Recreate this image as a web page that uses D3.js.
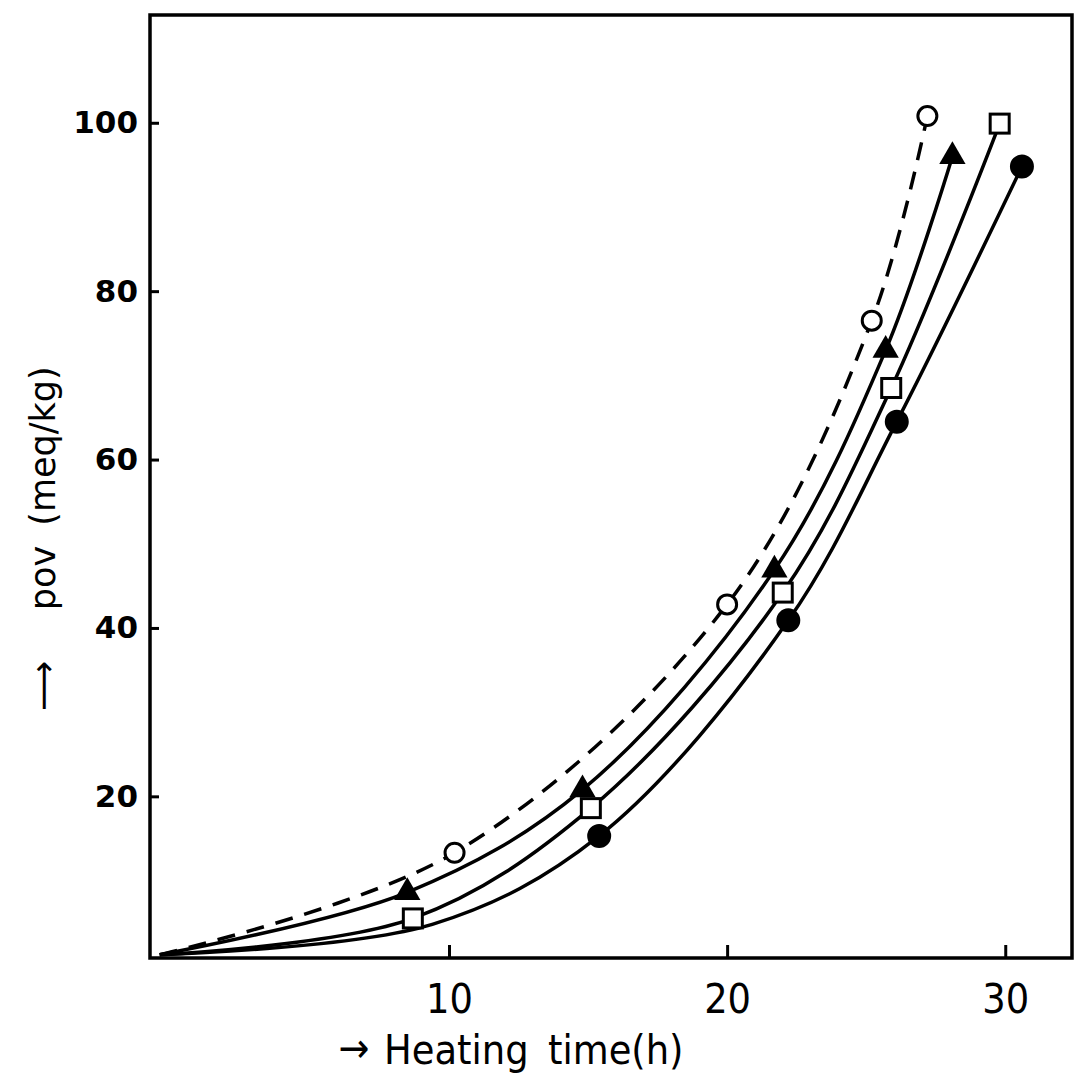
<!DOCTYPE html>
<html>
<head>
<meta charset="utf-8">
<script src="https://cdn.jsdelivr.net/npm/d3@7"></script>
<style>
  body { margin: 0; background: #fff; }
  svg { display: block; }
</style>
</head>
<body>
<div id="chart"></div>
<script>
// values (heating time in h, pov in meq/kg)
// all curves start from the same point near the origin
var origin = [-0.4, 1.2];

var openCircleTime = [10.2, 20.0, 25.2, 27.2];
var openCirclePov  = [13.3, 42.8, 76.5, 100.8];

var triangleTime = [8.5, 14.8, 21.7, 25.7, 28.1];
var trianglePov  = [8.6, 20.8, 46.9, 73.0, 96.0];

var squareTime = [8.7, 15.1, 22.0, 25.9, 29.8];
var squarePov  = [5.5, 18.6, 44.2, 68.5, 99.9];

var filledCircleTime = [15.4, 22.2, 26.1, 30.6];
var filledCirclePov  = [15.3, 40.9, 64.5, 94.8];
// where the filled-circle curve passes under the first square (no marker drawn)
var filledCurveTime = [9.4];
var filledCurvePov  = [4.8];

var xTicks = [10, 20, 30];
var yTicks = [20, 40, 60, 80, 100];

var W = 1075, H = 1080;
var plot = {left: 150, right: 1072, top: 15, bottom: 958};

var svg = d3.select("#chart").append("svg")
    .attr("width", W)
    .attr("height", H);

var x = d3.scaleLinear().domain([-0.75, 32.4]).range([plot.left, plot.right]);
var y = d3.scaleLinear().domain([0.8, 112.8]).range([plot.bottom, plot.top]);

var zip = function(xs, ys){
    return xs.map(function(v, i){ return [v, ys[i]]; });
};

var series = [
    {name: "openCircle", pts: zip(openCircleTime, openCirclePov), extra: [], dash: "18,12", marker: "circle", fill: "#fff"},
    {name: "triangle", pts: zip(triangleTime, trianglePov), extra: [], dash: null, marker: "triangle", fill: "#000"},
    {name: "square", pts: zip(squareTime, squarePov), extra: [], dash: null, marker: "square", fill: "#fff"},
    {name: "filledCircle", pts: zip(filledCircleTime, filledCirclePov), extra: zip(filledCurveTime, filledCurvePov), dash: null, marker: "circle", fill: "#000"}
];

var line = d3.line()
    .x(function(d){ return x(d[0]); })
    .y(function(d){ return y(d[1]); })
    .curve(d3.curveCatmullRom.alpha(0.5));

// curves
svg.append("g").selectAll("path")
    .data(series)
    .enter().append("path")
    .attr("d", function(d){ return line([origin].concat(d.extra, d.pts)); })
    .attr("fill", "none")
    .attr("stroke", "#000")
    .attr("stroke-width", 3.5)
    .attr("stroke-dasharray", function(d){ return d.dash; });

// markers
series.forEach(function(s){
    var g = svg.append("g").attr("class", s.name);
    if (s.marker == "circle") {
        g.selectAll("circle").data(s.pts).enter().append("circle")
            .attr("cx", function(d){ return x(d[0]); })
            .attr("cy", function(d){ return y(d[1]); })
            .attr("r", s.fill == "#000" ? 10.5 : 9.5)
            .attr("fill", s.fill)
            .attr("stroke", "#000")
            .attr("stroke-width", 3);
    } else if (s.marker == "square") {
        g.selectAll("rect").data(s.pts).enter().append("rect")
            .attr("x", function(d){ return x(d[0]) - 9.5; })
            .attr("y", function(d){ return y(d[1]) - 9.5; })
            .attr("width", 19)
            .attr("height", 19)
            .attr("fill", "#fff")
            .attr("stroke", "#000")
            .attr("stroke-width", 3);
    } else {
        var tri = d3.symbol().type(d3.symbolTriangle).size(300);
        g.selectAll("path").data(s.pts).enter().append("path")
            .attr("d", tri)
            .attr("transform", function(d){ return "translate(" + x(d[0]) + "," + y(d[1]) + ")"; })
            .attr("fill", "#000");
    }
});

// axes with inward ticks
var xAxis = d3.axisBottom(x).tickValues(xTicks).tickSizeInner(-13).tickSizeOuter(0).tickPadding(26);
var yAxis = d3.axisLeft(y).tickValues(yTicks).tickSizeInner(-9).tickSizeOuter(0).tickPadding(12);

var gx = svg.append("g")
    .attr("transform", "translate(0," + plot.bottom + ")")
    .call(xAxis);
gx.select(".domain").remove();
gx.selectAll("line").attr("stroke-width", 3);
gx.selectAll("text")
    .attr("font-family", "'Liberation Sans Narrow', 'DejaVu Sans Condensed', sans-serif")
    .attr("font-size", 41)
    .attr("fill", "#000");

var gy = svg.append("g")
    .attr("transform", "translate(" + plot.left + ",0)")
    .call(yAxis);
gy.select(".domain").remove();
gy.selectAll("line").attr("stroke-width", 3);
gy.selectAll("text")
    .attr("font-family", "'DejaVu Sans', sans-serif")
    .attr("font-weight", "bold")
    .attr("font-size", 31)
    .attr("fill", "#000");

// frame
svg.append("rect")
    .attr("x", plot.left)
    .attr("y", plot.top)
    .attr("width", plot.right - plot.left)
    .attr("height", plot.bottom - plot.top)
    .attr("fill", "none")
    .attr("stroke", "#000")
    .attr("stroke-width", 3.5);

// x title: arrow and words placed separately
var xTitle = svg.append("g")
    .attr("font-family", "'Liberation Sans Narrow', 'DejaVu Sans Condensed', sans-serif")
    .attr("font-size", 41);
xTitle.append("text").attr("x", 354).attr("y", 1062).attr("text-anchor", "middle").text("\u2192");
xTitle.append("text").attr("x", 384).attr("y", 1064).text("Heating");
xTitle.append("text").attr("x", 548).attr("y", 1064).text("time(h)");

// y title: arrow, "pov" and unit placed along the rotated axis
var yTitle = svg.append("g")
    .attr("transform", "translate(55,0) rotate(-90)")
    .attr("font-family", "'DejaVu Sans', sans-serif")
    .attr("font-size", 35)
    .attr("text-anchor", "middle");
yTitle.append("text").attr("x", -686).text("\u27F6");
yTitle.append("text").attr("x", -578).text("pov");
yTitle.append("text").attr("x", -446).text("(meq/kg)");
</script>
</body>
</html>
